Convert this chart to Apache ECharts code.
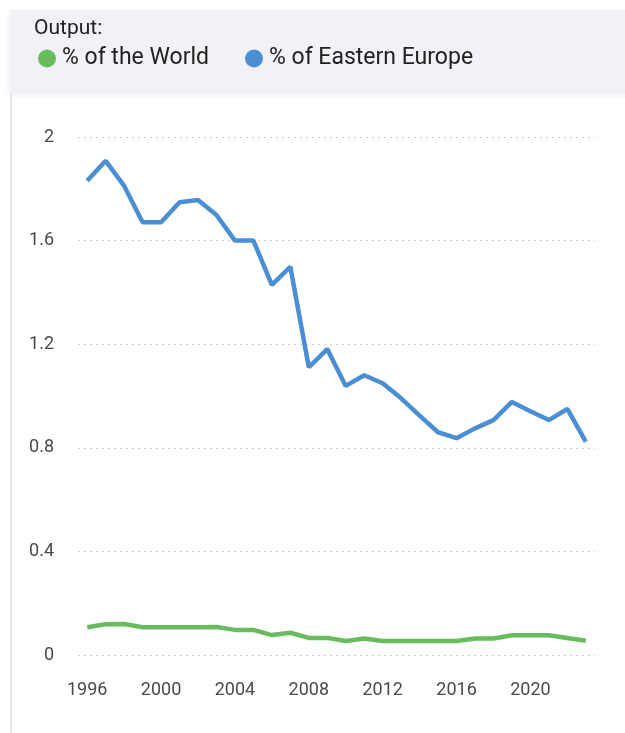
<!DOCTYPE html>
<html>
<head>
<meta charset="utf-8">
<script src="https://cdn.jsdelivr.net/npm/echarts@6/dist/echarts.min.js"></script>
<style>
html,body{margin:0;padding:0;background:#fff;}
#chart{width:625px;height:733px;}
</style>
</head>
<body>
<div id="chart"></div>
<script>
const years = ['1996','1997','1998','1999','2000','2001','2002','2003','2004','2005','2006','2007','2008','2009','2010','2011','2012','2013','2014','2015','2016','2017','2018','2019','2020','2021','2022','2023'];
const worldShare = [0.107,0.119,0.120,0.107,0.107,0.107,0.107,0.108,0.097,0.097,0.077,0.086,0.066,0.066,0.054,0.064,0.054,0.054,0.054,0.054,0.054,0.064,0.064,0.076,0.076,0.076,0.066,0.055];
const easternEuropeShare = [1.831,1.908,1.811,1.671,1.671,1.748,1.757,1.699,1.600,1.600,1.429,1.499,1.111,1.181,1.039,1.080,1.049,0.991,0.924,0.860,0.837,0.875,0.907,0.977,0.941,0.907,0.950,0.824];
const yTicks = [0, 0.4, 0.8, 1.2, 1.6, 2];
const legendTitle = 'Output:';
const seriesNames = ['% of the World', '% of Eastern Europe'];

const chart = echarts.init(document.getElementById('chart'), null, {renderer: 'canvas'});
const font = 'Roboto, "Liberation Sans", sans-serif';
chart.setOption({
  animation: false,
  backgroundColor: '#ffffff',
  graphic: [
    {type: 'rect', z: -10, shape: {x: 10, y: 10, width: 620, height: 83},
     style: {fill: '#f2f2f6', shadowBlur: 6, shadowColor: 'rgba(0,0,0,0.08)', shadowOffsetY: 2}},
    {type: 'rect', z: -11, shape: {x: 10, y: 10, width: 2, height: 730}, style: {fill: '#e8e8ec'}},
    {type: 'text', left: 34, top: 18, style: {text: legendTitle, font: '21px ' + font, fill: '#222'}}
  ],
  legend: {
    left: 33, top: 42,
    icon: 'circle', itemWidth: 18, itemHeight: 18, itemGap: 36,
    textStyle: {fontFamily: font, fontSize: 23, color: '#222', padding: [0, 0, 0, 1]},
    data: seriesNames
  },
  grid: {left: 78, right: 30, top: 137, bottom: 78, containLabel: false},
  xAxis: {
    type: 'category', data: years, boundaryGap: true,
    axisLine: {show: false}, axisTick: {show: false},
    axisLabel: {interval: 3, color: '#4a4a4a', fontFamily: font, fontSize: 18, margin: 26}
  },
  yAxis: {
    type: 'value', min: yTicks[0], max: yTicks[yTicks.length - 1], interval: 0.4,
    axisLine: {show: false}, axisTick: {show: false},
    axisLabel: {color: '#4a4a4a', fontFamily: font, fontSize: 18, margin: 24,
      formatter: v => String(parseFloat(v.toFixed(1)))},
    splitLine: {lineStyle: {type: [2, 4], color: '#cfcfcf', width: 1}}
  },
  series: [
    {name: seriesNames[0], type: 'line', data: worldShare, symbol: 'none',
     color: '#69bc5d', lineStyle: {width: 4.5, color: '#69bc5d'}},
    {name: seriesNames[1], type: 'line', data: easternEuropeShare, symbol: 'none',
     color: '#4a8fd4', lineStyle: {width: 4.5, color: '#4a8fd4'}}
  ]
});
</script>
</body>
</html>
